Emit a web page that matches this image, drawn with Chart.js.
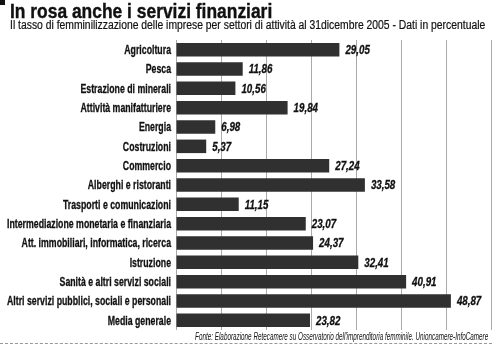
<!DOCTYPE html>
<html>
<head>
<meta charset="utf-8">
<script src="https://cdn.jsdelivr.net/npm/chart.js@4.4.1/dist/chart.umd.min.js"></script>
<style>
  html, body { margin: 0; padding: 0; background: #fff; }
  #wrap { position: relative; width: 495px; height: 346px; overflow: hidden; }
  #chart { position: absolute; left: 0; top: 0; }
  .narrow { font-family: "Liberation Sans", Arial, sans-serif; color: #111; position: absolute; white-space: nowrap; line-height: 1.15; }
  #mark { position: absolute; left: 0; top: 0; width: 5px; height: 5px; background: #111; }
  #title { left: 10px; top: -1.5px; font-size: 21px; font-weight: bold; -webkit-text-stroke: 0.4px #111; transform-origin: left top; }
  #subtitle { left: 10px; top: 18.5px; font-size: 12px; -webkit-text-stroke: 0.2px #111; transform-origin: left top; }
  #source { right: 7px; top: 330px; font-size: 11px; font-style: italic; transform-origin: right top; }
  #rule { position: absolute; left: 0; top: 343px; width: 492px; border-top: 1px dashed #999; }
</style>
</head>
<body>
<div id="wrap">
  <canvas id="chart" width="495" height="346"></canvas>
  <div id="mark"></div>
  <div id="title" class="narrow" data-w="262">In rosa anche i servizi finanziari</div>
  <div id="subtitle" class="narrow" data-w="475">Il tasso di femminilizzazione delle imprese per settori di attività al 31dicembre 2005 - Dati in percentuale</div>
  <div id="source" class="narrow" data-w="293">Fonte: Elaborazione Retecamere su Osservatorio dell'imprenditoria femminile. Unioncamere-InfoCamere</div>
  <div id="rule"></div>
</div>
<script>
// settori e tassi di femminilizzazione (%)
var settori = [
  'Agricoltura',
  'Pesca',
  'Estrazione di minerali',
  'Attività manifatturiere',
  'Energia',
  'Costruzioni',
  'Commercio',
  'Alberghi e ristoranti',
  'Trasporti e comunicazioni',
  'Intermediazione monetaria e finanziaria',
  'Att. immobiliari, informatica, ricerca',
  'Istruzione',
  'Sanità e altri servizi sociali',
  'Altri servizi pubblici, sociali e personali',
  'Media generale'
];
var tassi = [29.05, 11.86, 10.56, 19.84, 6.98, 5.37, 27.24, 33.58, 11.15, 23.07, 24.37, 32.41, 40.91, 48.87, 23.82];
var asseMax = 56;
var asseStep = 8;

var sans = '"Liberation Sans", Arial, sans-serif';

// testi condensati: stringo orizzontalmente fino alla larghezza voluta
document.querySelectorAll('.narrow').forEach(function(el) {
  var k = Number(el.dataset.w) / el.offsetWidth;
  el.style.transform = 'scaleX(' + k + ')';
});

// etichette dei settori (condensate) e valori a destra delle barre
var condensedText = {
  id: 'condensedText',
  afterDatasetsDraw: function(chart) {
    var ctx = chart.ctx;
    var yScale = chart.scales.y;
    var meta = chart.getDatasetMeta(0);
    var right = chart.chartArea.left - 5;
    ctx.save();
    ctx.fillStyle = '#111';
    ctx.strokeStyle = '#111';
    ctx.lineWidth = 0.3;
    ctx.textBaseline = 'middle';

    ctx.font = 'bold 12.5px ' + sans;
    var longest = 0;
    settori.forEach(function(s) { longest = Math.max(longest, ctx.measureText(s).width); });
    var k = 164 / longest;
    ctx.textAlign = 'right';
    settori.forEach(function(s, i) {
      var y = yScale.getPixelForTick(i);
      ctx.save();
      ctx.translate(right, y + 1);
      ctx.scale(k, 1);
      ctx.fillText(s, 0, 0);
      ctx.strokeText(s, 0, 0);
      ctx.restore();
    });

    ctx.font = 'italic bold 12.5px ' + sans;
    ctx.textAlign = 'left';
    meta.data.forEach(function(bar, i) {
      var txt = tassi[i].toFixed(2).replace('.', ',');
      ctx.save();
      ctx.translate(bar.x + 6, bar.y + 1);
      ctx.scale(0.78, 1);
      ctx.fillText(txt, 0, 0);
      ctx.strokeText(txt, 0, 0);
      ctx.restore();
    });
    ctx.restore();
  }
};

var config = {
  type: 'bar',
  data: {
    labels: settori,
    datasets: [{
      data: tassi,
      backgroundColor: '#303030',
      borderWidth: 0,
      barPercentage: 0.7,
      categoryPercentage: 1
    }]
  },
  options: {
    indexAxis: 'y',
    responsive: false,
    animation: false,
    layout: { padding: { top: 40, bottom: 16, right: 4, left: 0 } },
    plugins: {
      legend: { display: false },
      tooltip: { enabled: false }
    },
    scales: {
      x: {
        min: 0,
        max: asseMax,
        z: 1,
        ticks: { display: false, stepSize: asseStep },
        grid: { color: '#aaa', lineWidth: 1, drawTicks: false },
        border: { display: false }
      },
      y: {
        afterFit: function(scale) { scale.width = 176; },
        ticks: { color: 'rgba(0,0,0,0)', font: { size: 12 } },
        grid: { display: false },
        border: { display: false }
      }
    }
  },
  plugins: [condensedText]
};

var myChart = new Chart(document.getElementById('chart'), config);
</script>
</body>
</html>
